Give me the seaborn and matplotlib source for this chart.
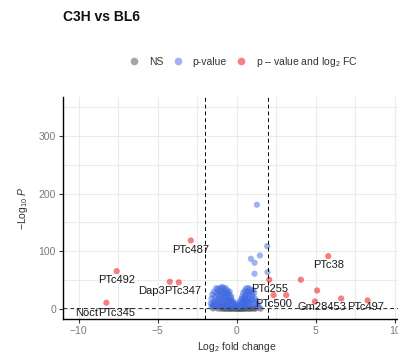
import matplotlib
matplotlib.use("Agg")
import matplotlib.pyplot as plt
from matplotlib.lines import Line2D
import seaborn as sns
import pandas as pd

# ---- data ----
red_x = [-2.91, -7.60, -4.24, -3.67, -8.25, 5.78, 2.05, 2.32, 4.94, 8.27, 4.05, 3.12, 5.08, 6.60]
red_y = [118.7, 65.5, 47.0, 46.0, 10.7, 91.5, 50.6, 24.0, 13.0, 14.7, 50.6, 24.0, 32.0, 18.0]

# gene labels and the index of the red point each one names
lab_text = ["PTc487", "PTc492", "Dap3", "PTc347", "Noct", "PTc345", "PTc38", "PTc255", "PTc500",
            "Gm28453", "PTc497"]
lab_point = [0, 1, 2, 3, 4, 4, 5, 6, 7, 8, 9]

blue_x = [-1.55, -1.45, -1.40, -1.30, -1.25, -1.20, -1.10, -1.05, -1.00, -0.95, -0.90, -0.85,
          -0.80, -0.75, -0.70, -0.65, -0.60, -0.55, -0.50, -0.45, -0.40, -0.35, -0.30, -0.25,
          -0.20, -0.15, -1.60, -1.35, -1.15, -0.95, -0.75, -0.60,
          -1.65, -1.60, -1.55, -1.50, -1.45, -1.40, -1.35, -1.30, -1.30, -1.25, -1.20, -1.15,
          -1.15, -1.10, -1.05, -1.05, -1.00, -1.00, -0.95, -0.90, -0.90, -0.85, -0.85, -0.80,
          -0.80, -0.75, -0.70, -0.70, -0.65, -0.60, -0.60, -0.55, -0.55, -0.50, -0.50, -0.45,
          -0.45, -0.40, -0.35, -0.35, -0.30, -0.25, -0.20, -0.15, -0.10, -0.10,
          0.15, 0.20, 0.25, 0.30, 0.35, 0.40, 0.45, 0.50, 0.55, 0.60, 0.65, 0.70, 0.75, 0.80,
          0.85, 0.90, 0.95, 1.00, 1.05, 1.10, 1.20, 1.30, 1.40, 0.50, 0.70,
          0.10, 0.15, 0.20, 0.25, 0.30, 0.35, 0.35, 0.40, 0.40, 0.45, 0.50, 0.50, 0.55, 0.55,
          0.60, 0.60, 0.65, 0.65, 0.70, 0.75, 0.75, 0.80, 0.85, 0.90, 0.95, 1.00, 1.05, 1.15,
          1.25, 1.35,
          1.27, 1.92, 1.46, 0.89, 1.12, 1.12, 1.94]
blue_y = [8, 12, 20, 28, 15, 35, 22, 10, 30, 38, 18, 26,
          12, 33, 22, 8, 16, 28, 5, 12, 20, 4, 9, 3,
          6, 2.5, 4, 5, 6, 3.5, 4, 2.5,
          10, 18, 25, 5, 30, 9, 14, 36, 3, 24, 8, 31,
          17, 12, 36, 26, 6, 20, 14, 30, 4, 37, 9, 20,
          28, 15, 36, 6, 26, 32, 10, 20, 3, 25, 14, 30,
          7, 16, 22, 11, 15, 10, 12, 7, 4, 9,
          2.5, 5, 3, 8, 12, 5, 18, 10, 25, 14, 6, 30, 20, 12,
          34, 8, 24, 16, 4, 28, 10, 6, 3, 3.5, 2.2,
          6, 10, 14, 8, 18, 4, 22, 28, 14, 8, 32, 20, 6, 16,
          36, 24, 12, 30, 18, 36, 8, 26, 16, 30, 12, 22, 32, 18,
          14, 9,
          180.6, 108.8, 92.7, 87.0, 80.0, 61.0, 63.8]

grey_x = [-1.2, -0.9, -0.7, -0.5, -0.4, -0.3, -0.2, -0.1, 0.0, 0.05, 0.1, 0.2,
          0.3, 0.4, 0.5, 0.6, 0.8, 1.0, 1.2, 1.5, -1.5, -0.6, 0.15, 0.7,
          -0.8, -0.25, 0.25, 0.45, 0.9, -1.0, 0.35, -0.15, 1.1, -0.45]
grey_y = [0.5, 0.9, 0.3, 1.1, 0.6, 0.2, 0.9, 0.4, 0.1, 1.0, 0.6, 0.3,
          1.2, 0.7, 0.2, 0.9, 0.4, 1.1, 0.6, 0.3, 0.8, 0.05, 0.05, 0.1,
          0.2, 1.2, 0.8, 1.0, 0.15, 0.15, 0.4, 0.7, 0.3, 0.1]

categories = ["NS", "p-value", "p \u2013 value and log$_{2}$ FC"]
colors = {"NS": "#4D4D4D", "p-value": "#4169E1", categories[2]: "#EE0000"}

# label offsets (points) from their data point, ggrepel-like placement
lab_off = {"PTc487": (-0.4, -7.0), "PTc492": (0.1, -6.7), "Dap3": (-13.0, -6.8),
           "PTc347": (3.0, -6.5), "Noct": (-14.0, -7.2), "PTc345": (7.6, -7.2),
           "PTc38": (0.0, -6.5), "PTc255": (0.1, -7.0), "PTc500": (0.0, -6.7),
           "Gm28453": (4.8, -4.3), "PTc497": (-1.2, -5.0)}

df = pd.DataFrame({
    "log2FC": grey_x + blue_x + red_x,
    "nlogp": grey_y + blue_y + red_y,
    "group": [categories[0]] * len(grey_x) + [categories[1]] * len(blue_x) + [categories[2]] * len(red_x),
})

sns.set_theme(style="whitegrid")
plt.rcParams["font.family"] = ["Liberation Sans", "DejaVu Sans"]
plt.rcParams["mathtext.fontset"] = "custom"
plt.rcParams["mathtext.rm"] = "Liberation Sans"
plt.rcParams["mathtext.it"] = "Liberation Sans:italic"

fig = plt.figure(figsize=(3.98, 3.53), dpi=100)
ax = fig.add_axes([0.158, 0.0963, 0.874, 0.629])

sns.scatterplot(data=df, x="log2FC", y="nlogp", hue="group", palette=colors,
                hue_order=categories, alpha=0.5, s=20, linewidth=0, legend=False, ax=ax)

ax.axvline(-2, color="black", lw=0.7, ls=(0, (4, 3)))
ax.axvline(2, color="black", lw=0.7, ls=(0, (4, 3)))
ax.axhline(1.30103, color="#333333", lw=0.7, ls=(0, (4, 3)))

for lab, idx in zip(lab_text, lab_point):
    dx, dy = lab_off[lab]
    ax.annotate(lab, (red_x[idx], red_y[idx]), xytext=(dx, dy), textcoords="offset points",
                ha="center", va="center", fontsize=8, color="#1a1a1a")

ax.set_xlim(-11, 11)
ax.set_ylim(-17.5, 367.5)
ax.set_xticks([-10, -5, 0, 5, 10])
ax.set_yticks([0, 100, 200, 300])
ax.set_xticks([-7.5, -2.5, 2.5, 7.5], minor=True)
ax.set_yticks([50, 150, 250, 350], minor=True)
ax.grid(which="both", color="#ebebeb", lw=0.8)
ax.set_axisbelow(True)
for s in ["top", "right"]:
    ax.spines[s].set_visible(False)
for s in ["left", "bottom"]:
    ax.spines[s].set_visible(True)
    ax.spines[s].set_color("black")
    ax.spines[s].set_linewidth(1.0)
ax.tick_params(which="major", length=3, width=0.8, color="#333333", labelsize=7.5,
               labelcolor="#7a7a7a", pad=2, bottom=True, left=True)
ax.tick_params(which="minor", length=0)

ax.set_xlabel("Log$_{2}$ fold change", fontsize=7.5, color="#333333", labelpad=3)
ax.set_ylabel("\u2212Log$_{10}$ $\\it{P}$", fontsize=7.5, color="#333333", labelpad=6)

fig.text(0.158, 0.952, "C3H vs BL6", fontsize=10, fontweight="bold", ha="left", va="center",
         color="#111111")

handles = [Line2D([0], [0], marker="o", ls="", markersize=5.5, markeredgewidth=0,
                  markerfacecolor=colors[c], alpha=0.5) for c in categories]
fig.legend(handles, categories, loc="center", bbox_to_anchor=(0.611, 0.824), ncol=3,
           frameon=False, fontsize=7.5, handletextpad=0.9, columnspacing=0.9,
           labelcolor="#333333", handlelength=1.0)

fig.savefig("out.png", dpi=100)
